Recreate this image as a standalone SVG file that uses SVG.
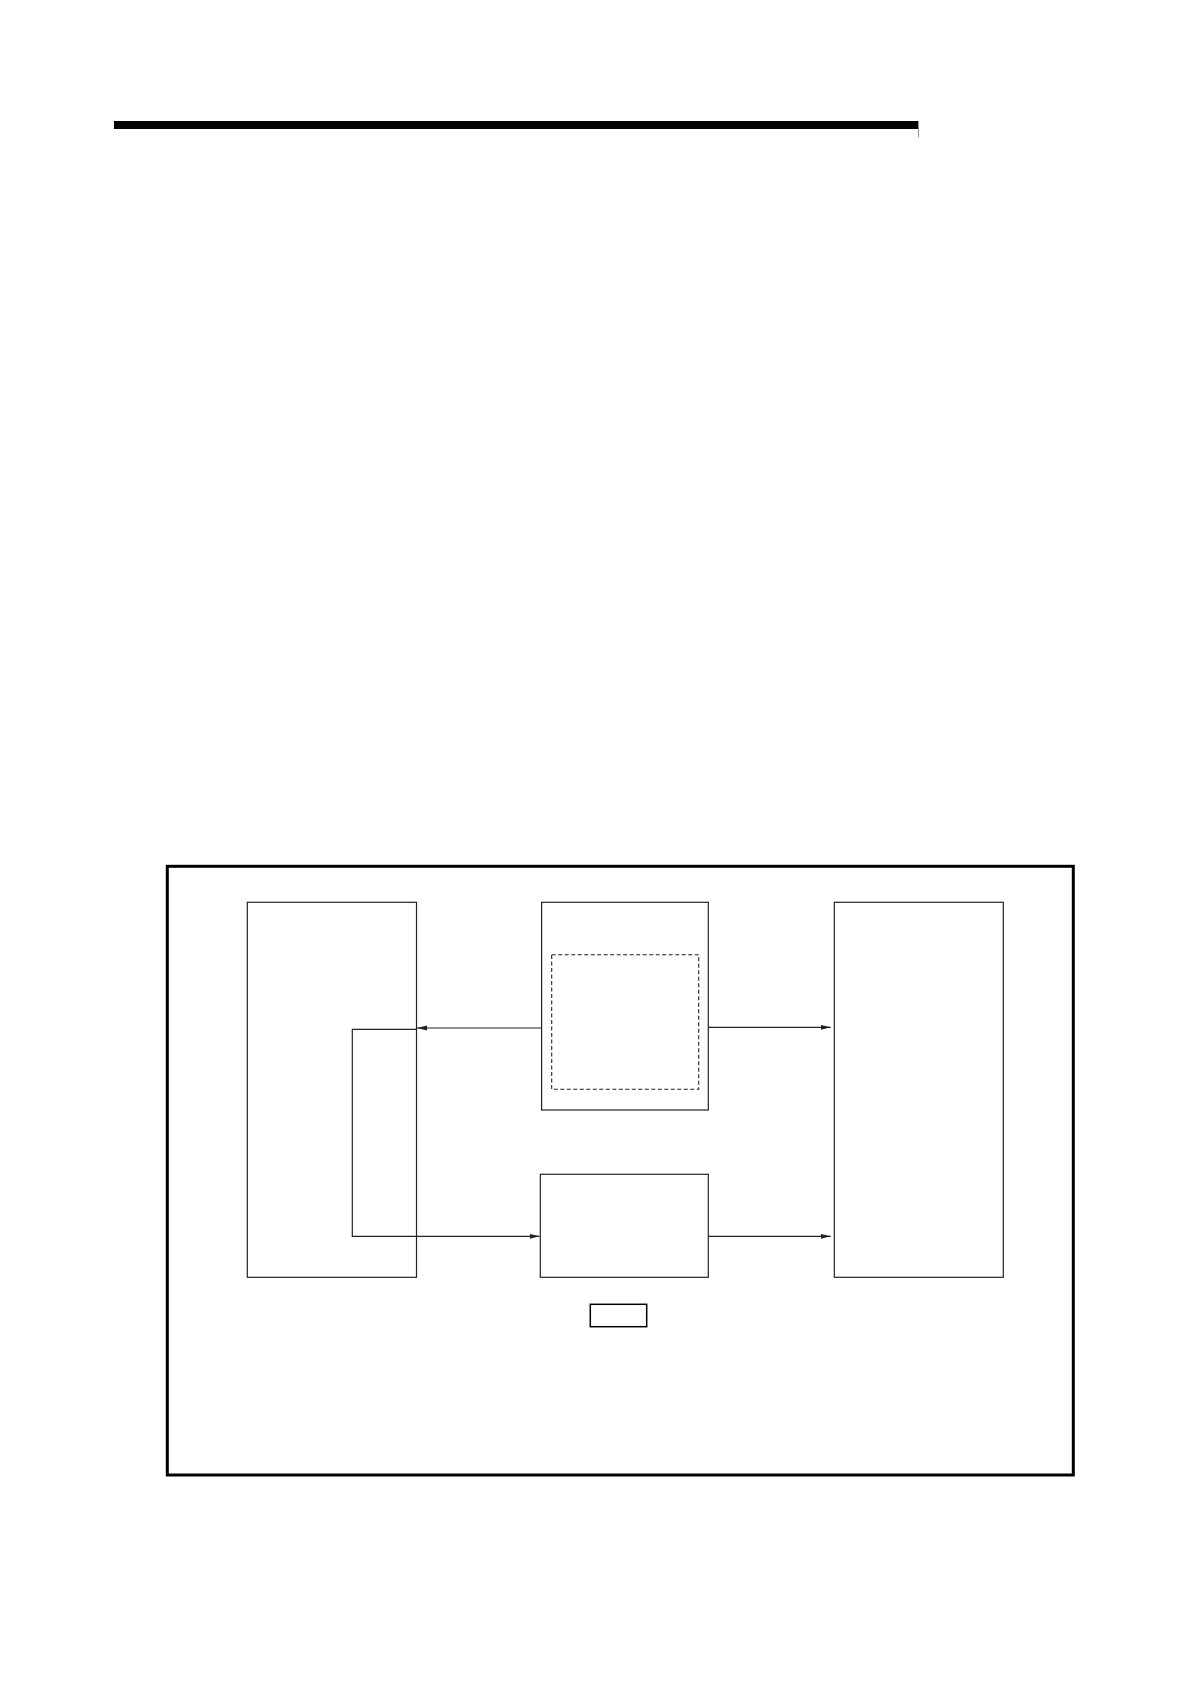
<svg xmlns="http://www.w3.org/2000/svg" width="1190" height="1684" viewBox="0 0 1190 1684">
<style>
.box{fill:none;stroke:#222;stroke-width:1.2}
.dash{fill:none;stroke:#222;stroke-width:1.1;stroke-dasharray:4 2.5}
.conn{fill:none;stroke:#222;stroke-width:1.2}
</style>
<defs>
<marker id="ah" markerUnits="userSpaceOnUse" markerWidth="11" markerHeight="6" refX="10" refY="3" orient="auto">
<path d="M0,0.5 L10,3 L0,5.5 Z" fill="#222"/>
</marker>
</defs>
<rect x="0" y="0" width="1190" height="1684" fill="#fff"/>
<g id="header">
<rect x="114" y="121" width="804.5" height="8" fill="#000"/>
<line x1="918.5" y1="121" x2="918.5" y2="137.5" stroke="#999" stroke-width="1"/>
</g>
<g id="frame">
<rect x="167.3" y="866.3" width="906" height="608.7" fill="none" stroke="#000" stroke-width="3"/>
</g>
<g id="node-left">
<rect class="box" x="247.3" y="902.3" width="169.2" height="375"/>
</g>
<g id="node-center-top">
<rect class="box" x="541.6" y="902.3" width="166.7" height="207.7"/>
<rect class="dash" x="551.7" y="954.7" width="147" height="134.6"/>
</g>
<g id="node-center-bottom">
<rect class="box" x="540.3" y="1174.3" width="168" height="103"/>
</g>
<g id="node-right">
<rect class="box" x="834.3" y="902.3" width="169" height="375"/>
</g>
<g id="node-small">
<rect x="590.3" y="1304.3" width="56.4" height="22.4" fill="none" stroke="#000" stroke-width="1.5"/>
</g>
<g id="connectors">
<line class="conn" x1="541.6" y1="1028" x2="417" y2="1028" marker-end="url(#ah)"/>
<polyline class="conn" points="416.5,1029.3 352.3,1029.3 352.3,1236.3 539.5,1236.3" marker-end="url(#ah)"/>
<line class="conn" x1="708.3" y1="1027.3" x2="830.7" y2="1027.3" marker-end="url(#ah)"/>
<line class="conn" x1="708.3" y1="1236.3" x2="830.7" y2="1236.3" marker-end="url(#ah)"/>
</g>
</svg>
